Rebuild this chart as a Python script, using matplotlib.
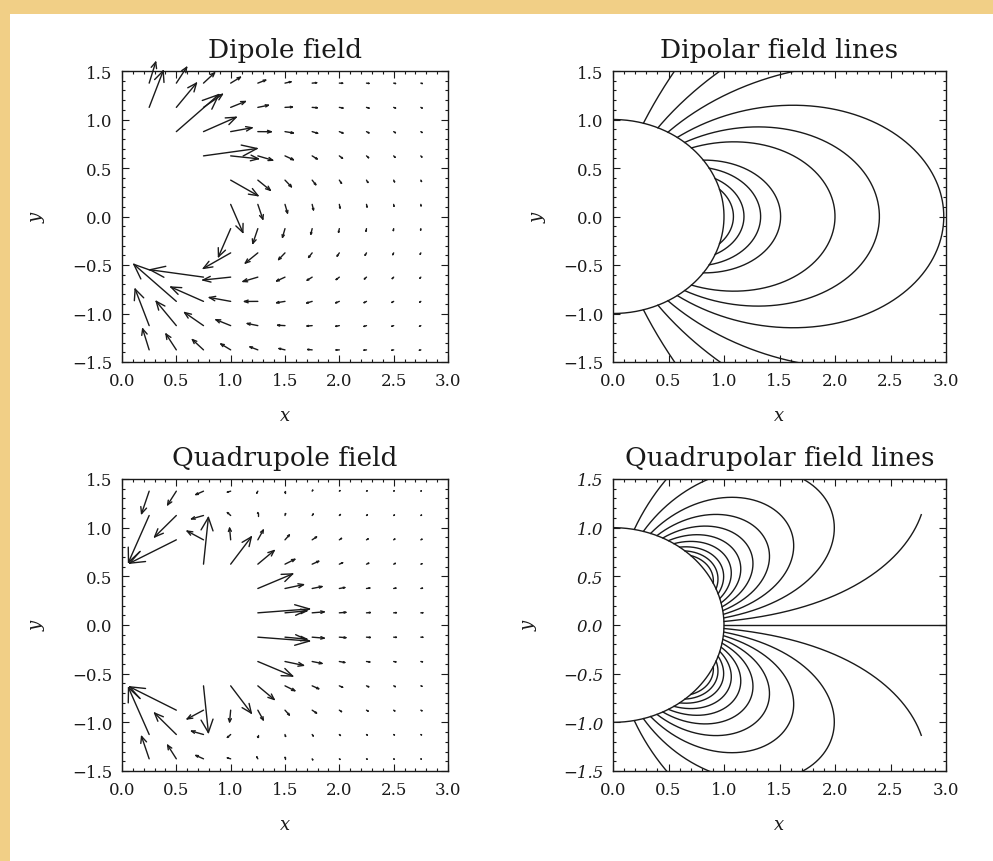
import numpy as np
import matplotlib
matplotlib.use("Agg")
import matplotlib.pyplot as plt
from matplotlib.collections import LineCollection
from matplotlib.patches import Rectangle
from matplotlib.ticker import MultipleLocator

# ---------------- data ----------------
# arrow tail grid (data units)
x_grid = [0.25, 0.5, 0.75, 1.0, 1.25, 1.5, 1.75, 2.0, 2.25, 2.5, 2.75]
y_grid = [1.375, 1.125, 0.875, 0.625, 0.375, 0.125,
          -0.125, -0.375, -0.625, -0.875, -1.125, -1.375]

# dipole field arrows (dx, dy) per row (top to bottom), None = no arrow
dipole_vec = [
    [(0.060, 0.216), (0.095, 0.163), (0.102, 0.106), (0.090, 0.061), (0.072, 0.031), (0.055, 0.014),
     (0.041, 0.004), (0.030, -0.001), (0.023, -0.003), (0.017, -0.004), (0.013, -0.004)],
    [(0.129, 0.376), (0.185, 0.250), (0.174, 0.135), (0.135, 0.061), (0.097, 0.022), (0.068, 0.004),
     (0.047, -0.004), (0.033, -0.007), (0.023, -0.008), (0.017, -0.007), (0.012, -0.007)],
    [None, (0.391, 0.382), (0.300, 0.148), (0.196, 0.040), (0.123, -0.001), (0.077, -0.014),
     (0.050, -0.017), (0.033, -0.015), (0.022, -0.013), (0.016, -0.011), (0.011, -0.009)],
    [None, None, (0.492, 0.076), (0.255, -0.030), (0.136, -0.045), (0.077, -0.040),
     (0.046, -0.032), (0.029, -0.025), (0.019, -0.019), (0.013, -0.015), (0.009, -0.012)],
    [None, None, None, (0.251, -0.160), (0.115, -0.105), (0.059, -0.069),
     (0.033, -0.047), (0.020, -0.033), (0.013, -0.024), (0.008, -0.018), (0.006, -0.014)],
    [None, None, None, (0.112, -0.289), (0.046, -0.152), (0.023, -0.089),
     (0.012, -0.057), (0.007, -0.038), (0.005, -0.027), (0.003, -0.020), (0.002, -0.015)],
    [None, None, None, (-0.112, -0.289), (-0.046, -0.152), (-0.023, -0.089),
     (-0.012, -0.057), (-0.007, -0.038), (-0.005, -0.027), (-0.003, -0.020), (-0.002, -0.015)],
    [None, None, None, (-0.251, -0.160), (-0.115, -0.105), (-0.059, -0.069),
     (-0.033, -0.047), (-0.020, -0.033), (-0.013, -0.024), (-0.008, -0.018), (-0.006, -0.014)],
    [None, None, (-0.492, 0.076), (-0.255, -0.030), (-0.136, -0.045), (-0.077, -0.040),
     (-0.046, -0.032), (-0.029, -0.025), (-0.019, -0.019), (-0.013, -0.015), (-0.009, -0.012)],
    [None, (-0.391, 0.382), (-0.300, 0.148), (-0.196, 0.040), (-0.123, -0.001), (-0.077, -0.014),
     (-0.050, -0.017), (-0.033, -0.015), (-0.022, -0.013), (-0.016, -0.011), (-0.011, -0.009)],
    [(-0.129, 0.376), (-0.185, 0.250), (-0.174, 0.135), (-0.135, 0.061), (-0.097, 0.022), (-0.068, 0.004),
     (-0.047, -0.004), (-0.033, -0.007), (-0.023, -0.008), (-0.017, -0.007), (-0.012, -0.007)],
    [(-0.060, 0.216), (-0.095, 0.163), (-0.102, 0.106), (-0.090, 0.061), (-0.072, 0.031), (-0.055, 0.014),
     (-0.041, 0.004), (-0.030, -0.001), (-0.023, -0.003), (-0.017, -0.004), (-0.013, -0.004)],
]

# quadrupole field arrows (dx, dy) per row (top to bottom), None = no arrow
quad_vec = [
    [(-0.07, -0.23), (-0.08, -0.14), (-0.07, -0.035), (-0.03, -0.01), (-0.01, -0.02), (0.0, -0.015),
     (0.005, 0.01), (0.006, 0.006), (0.006, 0.004), (0.005, 0.004), (0.004, 0.003)],
    [(-0.19, -0.48), (-0.20, -0.22), (-0.11, -0.035), (-0.03, 0.03), (0.0, 0.03), (0.005, 0.02),
     (0.01, 0.015), (0.01, 0.01), (0.008, 0.007), (0.007, 0.005), (0.006, 0.004)],
    [None, (-0.43, -0.24), (-0.15, 0.09), (-0.01, 0.12), (0.05, 0.10), (0.04, 0.05),
     (0.04, 0.03), (0.02, 0.015), (0.015, 0.01), (0.01, 0.008), (0.01, 0.006)],
    [None, None, (0.045, 0.48), (0.19, 0.28), (0.15, 0.14), (0.09, 0.05),
     (0.06, 0.03), (0.03, 0.015), (0.02, 0.01), (0.015, 0.008), (0.01, 0.005)],
    [None, None, None, None, (0.32, 0.15), (0.17, 0.04),
     (0.09, 0.02), (0.05, 0.01), (0.03, 0.005), (0.02, 0.004), (0.015, 0.003)],
    [None, None, None, None, (0.475, 0.04), (0.20, 0.02),
     (0.11, 0.01), (0.06, 0.005), (0.035, 0.003), (0.025, 0.002), (0.018, 0.001)],
    [None, None, None, None, (0.475, -0.04), (0.20, -0.02),
     (0.11, -0.01), (0.06, -0.005), (0.035, -0.003), (0.025, -0.002), (0.018, -0.001)],
    [None, None, None, None, (0.32, -0.15), (0.17, -0.04),
     (0.09, -0.02), (0.05, -0.01), (0.03, -0.005), (0.02, -0.004), (0.015, -0.003)],
    [None, None, (0.045, -0.48), (0.19, -0.28), (0.15, -0.14), (0.09, -0.05),
     (0.06, -0.03), (0.03, -0.015), (0.02, -0.01), (0.015, -0.008), (0.01, -0.005)],
    [None, (-0.43, 0.24), (-0.15, -0.09), (-0.01, -0.12), (0.05, -0.10), (0.04, -0.05),
     (0.04, -0.03), (0.02, -0.015), (0.015, -0.01), (0.01, -0.008), (0.01, -0.006)],
    [(-0.19, 0.48), (-0.20, 0.22), (-0.11, 0.035), (-0.03, -0.03), (0.0, -0.03), (0.005, -0.02),
     (0.01, -0.015), (0.01, -0.01), (0.008, -0.007), (0.007, -0.005), (0.006, -0.004)],
    [(-0.07, 0.23), (-0.08, 0.14), (-0.07, 0.035), (-0.03, 0.01), (-0.01, 0.02), (0.0, 0.015),
     (0.005, -0.01), (0.006, -0.006), (0.006, -0.004), (0.005, -0.004), (0.004, -0.003)],
]

# field-line labels: dipole shell parameter L (apex distance) and quadrupole flux values
dipole_L = [1.085, 1.18, 1.33, 1.51, 2.0, 2.4, 2.98, 4.08, 6.1, 13.3]
quad_psi = [0.036, 0.072, 0.108, 0.144, 0.18, 0.216, 0.252, 0.288, 0.32, 0.35]
r_outer = 3.0

titles = ["Dipole field", "Dipolar field lines",
          "Quadrupole field", "Quadrupolar field lines"]
xticks = [0.0, 0.5, 1.0, 1.5, 2.0, 2.5, 3.0]
yticks = [-1.5, -1.0, -0.5, 0.0, 0.5, 1.0, 1.5]

# ---------------- figure ----------------
W, H = 993, 862
fig = plt.figure(figsize=(W / 100, H / 100), dpi=100)
fig.patch.set_facecolor("#F1CF86")
fig.patches.append(Rectangle((10 / W, 0), 1 - 10 / W, 1 - 15 / H,
                             transform=fig.transFigure, facecolor="white",
                             edgecolor="none", zorder=-5))

FONT = "DejaVu Serif"
INK = "#1a1a1a"


def box(l, t, r, b):
    return [l / W, 1 - b / H, (r - l) / W, (b - t) / H]


axes = [fig.add_axes(box(122, 72, 448, 363)),
        fig.add_axes(box(613, 72, 946, 363)),
        fig.add_axes(box(122, 480, 448, 772)),
        fig.add_axes(box(613, 480, 946, 772))]
ylabel_x = [-0.235, -0.2, -0.235, -0.225]

for i, ax in enumerate(axes):
    ax.set_zorder(2)
    ax.set_xlim(0, 3)
    ax.set_ylim(-1.5, 1.5)
    ax.set_xticks(xticks)
    ax.set_yticks(yticks)
    ax.xaxis.set_minor_locator(MultipleLocator(0.1))
    ax.yaxis.set_minor_locator(MultipleLocator(0.1))
    ax.tick_params(which="both", direction="in", top=True, right=True,
                   color=INK, width=0.8)
    ax.tick_params(which="major", length=5, labelsize=12, pad=7)
    ax.tick_params(which="minor", length=2.5)
    for s in ax.spines.values():
        s.set_linewidth(1.0)
        s.set_color(INK)
    ax.set_xticklabels([f"{t:.1f}" for t in xticks], fontfamily=FONT, color=INK)
    style = "italic" if i == 3 else "normal"
    ax.set_yticklabels([f"{t:.1f}".replace("-", "\u2212") for t in yticks],
                       fontfamily=FONT, color=INK, style=style)
    ax.set_title(titles[i], fontfamily=FONT, fontsize=19, color=INK, pad=10)
    ax.set_xlabel("x", fontfamily=FONT, fontsize=13, style="italic", color=INK)
    ax.set_ylabel("y", fontfamily=FONT, fontsize=13, style="italic", color=INK,
                  rotation=90)
    ax.xaxis.set_label_coords(0.5, -0.15)
    ax.yaxis.set_label_coords(ylabel_x[i], 0.5)

ct = 0.3 * np.cos(np.radians(22.5))
st = 0.3 * np.sin(np.radians(22.5))


def draw_arrows(ax, table):
    segs = []
    for y0, row in zip(y_grid, table):
        for x0, vec in zip(x_grid, row):
            if vec is None:
                continue
            u, v = vec
            x1, y1 = x0 + u, y0 + v
            segs.append([(x0, y0), (x1, y1)])
            segs.append([(x1, y1), (x1 - (ct * u - st * v), y1 - (ct * v + st * u))])
            segs.append([(x1, y1), (x1 - (ct * u + st * v), y1 - (ct * v - st * u))])
    ax.add_collection(LineCollection(segs, colors=INK, linewidths=1.0,
                                     capstyle="round", clip_on=False))


draw_arrows(axes[0], dipole_vec)
draw_arrows(axes[2], quad_vec)

# stellar surface (unit circle)
th = np.linspace(-np.pi / 2, np.pi / 2, 300)
for ax in (axes[1], axes[3]):
    ax.plot(np.cos(th), np.sin(th), color=INK, lw=1.0)

# dipole field lines: r = L cos^2(latitude), traced out to r_outer
for L in dipole_L:
    lam0 = np.arccos(1 / np.sqrt(L))
    lam = np.linspace(-lam0, lam0, 800)
    r = L * np.cos(lam) ** 2
    r = np.where(r <= r_outer, r, np.nan)
    axes[1].plot(r * np.cos(lam), r * np.sin(lam), color=INK, lw=1.0)

# quadrupole field lines: sin^2(t) cos(t) / r^2 = psi, traced from r=1 to r_outer
t = np.linspace(1e-4, np.pi / 2 - 1e-4, 2000)
f = np.sin(t) ** 2 * np.cos(t)
for psi in quad_psi:
    r = np.sqrt(f / psi)
    r = np.where((r >= 1.0) & (r <= r_outer), r, np.nan)
    for sgn in (1, -1):
        axes[3].plot(r * np.sin(t), sgn * r * np.cos(t), color=INK, lw=1.0)
axes[3].plot([1.0, r_outer], [0.0, 0.0], color=INK, lw=1.0)

fig.savefig("out.png", dpi=100, facecolor=fig.get_facecolor())
